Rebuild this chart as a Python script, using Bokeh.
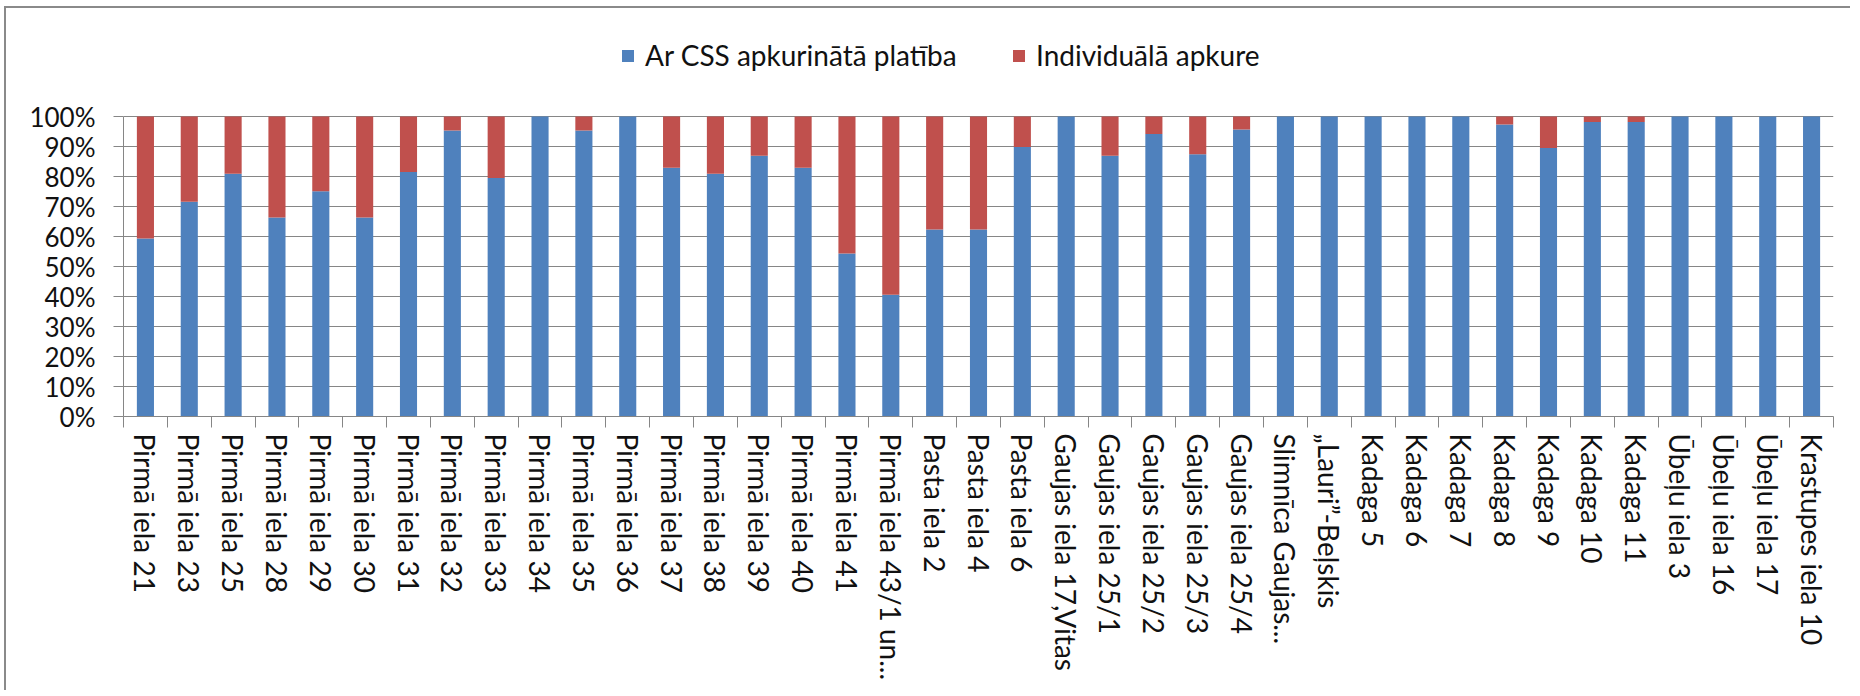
from bokeh.plotting import figure
from bokeh.models import (ColumnDataSource, Range1d, FixedTicker, Legend, LegendItem,
                          PrintfTickFormatter)
from bokeh.embed import file_html
from bokeh.resources import INLINE

categories = ["Pirmā iela 21", "Pirmā iela 23", "Pirmā iela 25", "Pirmā iela 28", "Pirmā iela 29",
              "Pirmā iela 30", "Pirmā iela 31", "Pirmā iela 32", "Pirmā iela 33", "Pirmā iela 34",
              "Pirmā iela 35", "Pirmā iela 36", "Pirmā iela 37", "Pirmā iela 38", "Pirmā iela 39",
              "Pirmā iela 40", "Pirmā iela 41", "Pirmā iela 43/1 un...", "Pasta iela 2", "Pasta iela 4",
              "Pasta iela 6", "Gaujas iela 17,Vitas", "Gaujas iela 25/1", "Gaujas iela 25/2",
              "Gaujas iela 25/3", "Gaujas iela 25/4", "Slimnīca Gaujas...", "„Lauri”-Beļskis",
              "Kadaga 5", "Kadaga 6", "Kadaga 7", "Kadaga 8", "Kadaga 9", "Kadaga 10", "Kadaga 11",
              "Ūbeļu iela 3", "Ūbeļu iela 16", "Ūbeļu iela 17", "Krastupes iela 10"]

css_area = [59.3, 71.6, 80.9, 66.3, 75.1, 66.3, 81.5, 95.3, 79.5, 100,
            95.3, 100, 82.9, 80.9, 86.9, 82.9, 54.3, 40.6, 62.3, 62.3,
            89.8, 100, 86.9, 94.2, 87.4, 95.7, 100, 100, 100, 100,
            100, 97.3, 89.5, 98.2, 98.2, 100, 100, 100, 100]

individual = [40.7, 28.4, 19.1, 33.7, 24.9, 33.7, 18.5, 4.7, 20.5, 0,
              4.7, 0, 17.1, 19.1, 13.1, 17.1, 45.7, 59.4, 37.7, 37.7,
              10.2, 0, 13.1, 5.8, 12.6, 4.3, 0, 0, 0, 0,
              0, 2.7, 10.5, 1.8, 1.8, 0, 0, 0, 0]

series_names = ["Ar CSS apkurinātā platība", "Individuālā apkure"]
y_ticks = [0, 10, 20, 30, 40, 50, 60, 70, 80, 90, 100]

BLUE = "#4F81BD"
RED = "#C0504D"
GRID = "#868686"
TEXT = "#111111"

n = len(categories)
centers = [i + 0.5 for i in range(n)]
bounds = [i for i in range(n + 1)]

src = ColumnDataSource(dict(x=centers, css=css_area, ind=individual))

# frame extends above 100% so the legend can sit inside it
p = figure(width=1846, height=684, output_backend="svg", toolbar_location=None,
           x_range=Range1d(0, n), y_range=Range1d(0, 132),
           min_border_left=117, min_border_right=19, min_border_top=12, min_border_bottom=276)
p.styles = {"border-left": "2px solid #8a8a8a", "border-top": "2px solid #8a8a8a",
            "margin-left": "4px", "margin-top": "6px"}
p.outline_line_color = None
p.background_fill_color = "white"
p.border_fill_color = "white"

r = p.vbar_stack(["css", "ind"], x="x", width=0.39, source=src, color=[BLUE, RED],
                 line_color=None)

# y axis
ya = p.yaxis[0]
ya.bounds = (0, 100)
ya.ticker = FixedTicker(ticks=y_ticks, minor_ticks=[])
ya.formatter = PrintfTickFormatter(format="%d%%")
ya.axis_line_color = GRID
ya.major_tick_line_color = GRID
ya.major_tick_out = 10
ya.major_tick_in = 0
ya.minor_tick_line_color = None
ya.major_label_standoff = 18
ya.major_label_text_font = "Lato"
ya.major_label_text_font_size = "26px"
ya.major_label_text_color = TEXT

# x axis
xa = p.xaxis[0]
xa.ticker = FixedTicker(ticks=centers, minor_ticks=bounds)
xa.major_label_overrides = {c: name for c, name in zip(centers, categories)}
xa.major_label_orientation = "vertical"
xa.axis_line_color = GRID
xa.major_tick_line_color = None
xa.major_tick_out = 0
xa.major_tick_in = 0
xa.minor_tick_line_color = GRID
xa.minor_tick_out = 11
xa.minor_tick_in = 0
xa.major_label_standoff = 6
xa.major_label_text_font = "Lato"
xa.major_label_text_font_size = "28px"
xa.major_label_text_color = TEXT

p.xgrid.grid_line_color = None
p.ygrid.ticker = FixedTicker(ticks=y_ticks)
p.ygrid.grid_line_color = GRID
p.ygrid.grid_line_width = 1

for rend, name, xoff in zip(r, series_names, [497, 888]):
    lg = Legend(items=[LegendItem(label=name, renderers=[rend])], location=(xoff, 344),
                orientation="horizontal", padding=0, margin=0, spacing=0,
                glyph_width=15, glyph_height=15, label_standoff=10, label_height=30,
                label_text_font="Lato", label_text_font_size="28px", label_text_color=TEXT,
                border_line_color=None, background_fill_alpha=0)
    p.add_layout(lg, "center")

open("out.html", "w").write(file_html(p, INLINE))
